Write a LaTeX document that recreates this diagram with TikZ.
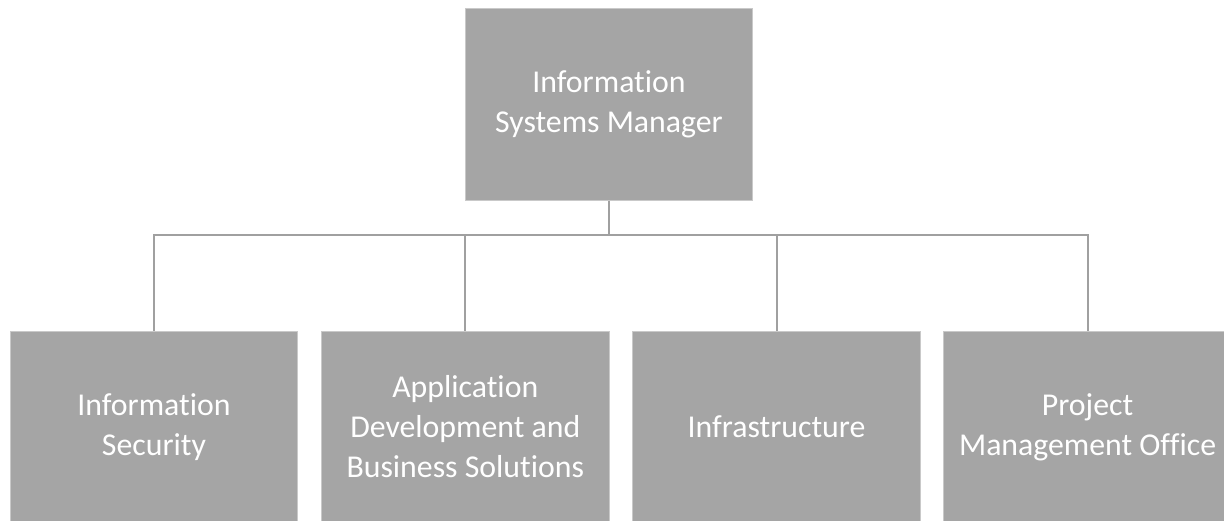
\documentclass[tikz,border=0pt]{standalone}
\usepackage{fontspec}
\setmainfont[Ligatures=NoCommon]{Carlito}
\definecolor{boxfill}{HTML}{A5A5A5}
\definecolor{boxedge}{HTML}{C9C9C9}
\definecolor{linkgray}{HTML}{A0A0A0}
\begin{document}
\begin{tikzpicture}[x=1pt,y=-1pt,
  orgbox/.style={rectangle, fill=boxfill, draw=boxedge, line width=1pt,
    minimum width=287.7pt, minimum height=192pt, inner sep=0pt,
    align=center, text=white, font=\fontsize{31.8}{40}\selectfont},
  link/.style={draw=linkgray, line width=2pt}]
  \clip (0,0) rectangle (1224,520);
  \fill[white] (0,0) rectangle (1224,520);

  % manager
  \node[orgbox] (top) at (609,104.2) {Information\\Systems Manager};

  % departments
  \node[orgbox] (b1) at (154,427) {Information\\Security};
  \node[orgbox] (b2) at (465.3,427) {Application\\Development and\\Business Solutions};
  \node[orgbox] (b3) at (776.5,427) {Infrastructure};
  \node[orgbox] (b4) at (1087.6,427) {Project\\Management Office};

  % reporting lines
  \coordinate (bus) at (609,235);
  \draw[link] (top.south) -- (bus);
  \draw[link] (b1.north) |- (b4.north |- bus) -- (b4.north);
  \draw[link] (b2.north) -- (b2.north |- bus);
  \draw[link] (b3.north) -- (b3.north |- bus);
\end{tikzpicture}
\end{document}
